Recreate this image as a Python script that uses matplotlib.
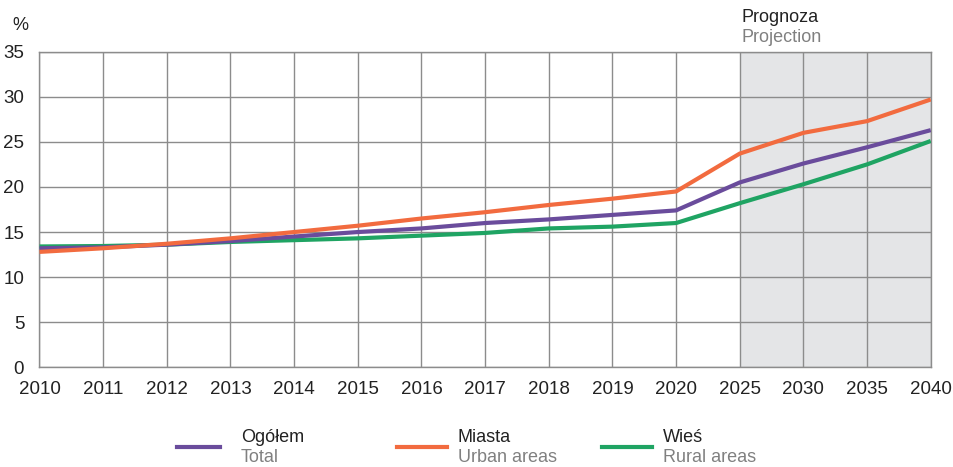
import matplotlib
matplotlib.use("Agg")
import matplotlib.pyplot as plt
from matplotlib.lines import Line2D

plt.rcParams['font.family'] = ['Liberation Sans', 'DejaVu Sans']

years = ["2010", "2011", "2012", "2013", "2014", "2015", "2016", "2017", "2018",
         "2019", "2020", "2025", "2030", "2035", "2040"]
ogolem = [13.2, 13.3, 13.6, 14.0, 14.5, 15.0, 15.4, 16.0, 16.4, 16.9, 17.4, 20.5, 22.6, 24.4, 26.3]
miasta = [12.8, 13.2, 13.7, 14.3, 15.0, 15.7, 16.5, 17.2, 18.0, 18.7, 19.5, 23.7, 26.0, 27.3, 29.7]
wies = [13.4, 13.45, 13.6, 13.9, 14.1, 14.3, 14.6, 14.9, 15.4, 15.6, 16.0, 18.2, 20.3, 22.5, 25.1]
yticks = [0, 5, 10, 15, 20, 25, 30, 35]

c_total = "#6a4c9c"
c_urban = "#f26b3f"
c_rural = "#1fa463"
grid_c = "#8c8c8c"

fig = plt.figure(figsize=(9.54, 4.67), dpi=100)
ax = fig.add_axes([0.0414, 0.2135, 0.9342, 0.6758])
x = list(range(len(years)))
ax.axvspan(years.index("2025"), years.index("2040"), color="#e4e5e7", zorder=0, lw=0)
ax.plot(x, wies, color=c_rural, lw=3, zorder=3, solid_capstyle='butt')
ax.plot(x, ogolem, color=c_total, lw=3, zorder=4, solid_capstyle='butt')
ax.plot(x, miasta, color=c_urban, lw=3, zorder=5, solid_capstyle='butt')

ax.set_xlim(0, len(years) - 1)
ax.set_ylim(0, 35)
ax.set_xticks(x)
ax.set_xticklabels(years, fontsize=13.5, color="#222222")
ax.set_yticks(yticks)
ax.set_yticklabels([str(v) for v in yticks], fontsize=13.5, color="#222222")
ax.tick_params(length=0, pad=10, axis='x')
ax.tick_params(length=0, pad=11, axis='y')
ax.grid(True, color=grid_c, lw=1, zorder=1)
ax.set_axisbelow(True)
for s in ax.spines.values():
    s.set_color(grid_c)
    s.set_linewidth(1)

fig.text(12 / 954, 1 - 25 / 467, "%", fontsize=13, color="#222222", ha="left", va="center")
fig.text(742 / 954, 1 - 18 / 467, "Prognoza", fontsize=13, color="#222222", ha="left", va="center")
fig.text(742 / 954, 1 - 37 / 467, "Projection", fontsize=13, color="#808080", ha="left", va="center")

legend_items = [
    (177, 220, 241, "Ogółem", "Total", c_total),
    (397, 447, 458, "Miasta", "Urban areas", c_urban),
    (602, 652, 663, "Wieś", "Rural areas", c_rural),
]
for x0, x1, xt, pl, en, col in legend_items:
    fig.add_artist(Line2D([x0 / 954, x1 / 954], [1 - 447 / 467, 1 - 447 / 467],
                          color=col, lw=3, transform=fig.transFigure))
    fig.text(xt / 954, 1 - 438 / 467, pl, fontsize=13, color="#222222", ha="left", va="center")
    fig.text(xt / 954, 1 - 458 / 467, en, fontsize=13, color="#808080", ha="left", va="center")

fig.savefig("out.png", dpi=100)
